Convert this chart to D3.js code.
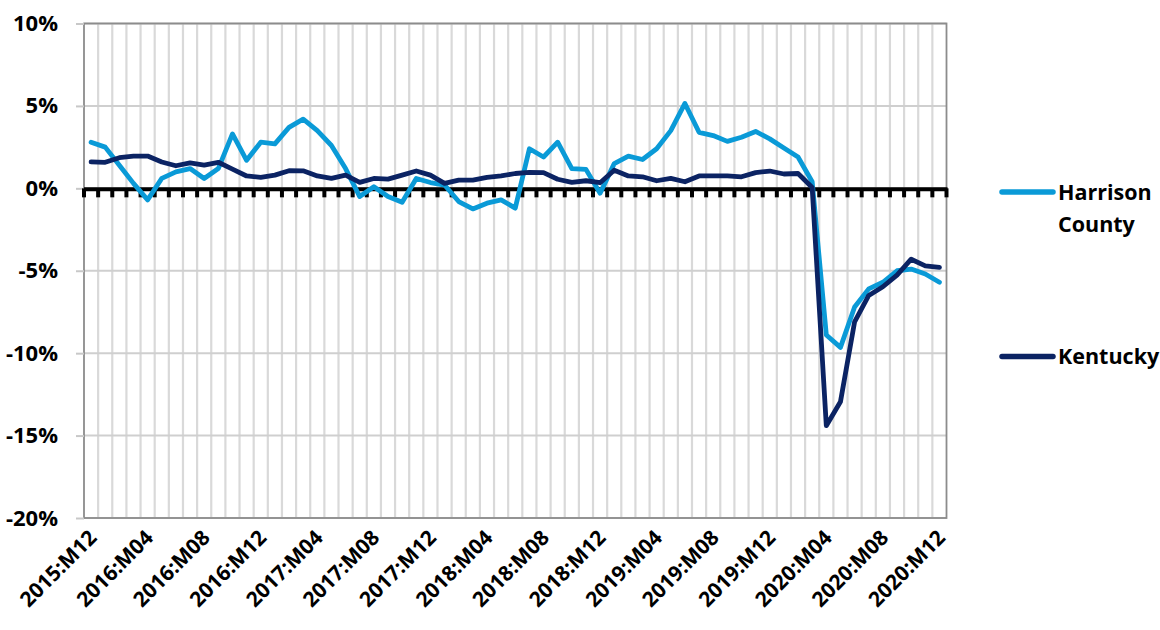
<!DOCTYPE html>
<html>
<head>
<meta charset="utf-8">
<script src="https://cdn.jsdelivr.net/npm/d3@7/dist/d3.min.js"></script>
<style>
  html, body { margin: 0; padding: 0; background: #ffffff; }
  svg { display: block; }
  text { font-family: "Open Sans", Lato, "Liberation Sans", sans-serif; font-weight: 700; fill: #000; }
</style>
</head>
<body>
<svg id="chart" width="1160" height="630"></svg>
<script>
// Monthly periods, 2015:M12 through 2020:M12
const periods = [];
for (let y = 2015, m = 12; y < 2021; ) {
  periods.push(y + ":M" + String(m).padStart(2, "0"));
  m++; if (m > 12) { m = 1; y++; }
  if (y === 2021) break;
}

// Year-over-year change, percent
const harrison = [
  2.8, 2.5, 1.4, 0.3, -0.7, 0.6, 1.0, 1.2, 0.6, 1.2,
  3.3, 1.7, 2.8, 2.7, 3.7, 4.2, 3.5, 2.6, 1.2, -0.5,
  0.1, -0.5, -0.85, 0.6, 0.35, 0.2, -0.8, -1.25, -0.9, -0.7,
  -1.2, 2.4, 1.9, 2.8, 1.2, 1.15, -0.3, 1.5, 1.95, 1.75,
  2.4, 3.5, 5.15, 3.4, 3.2, 2.85, 3.1, 3.45, 3.0, 2.45,
  1.9, 0.4, -8.9, -9.65, -7.2, -6.1, -5.7, -5.0, -4.9, -5.2,
  -5.7
];
const kentucky = [
  1.6, 1.58, 1.86, 1.96, 1.96, 1.6, 1.37, 1.55, 1.41, 1.58,
  1.17, 0.75, 0.67, 0.8, 1.07, 1.06, 0.75, 0.6, 0.8, 0.36,
  0.6, 0.56, 0.8, 1.05, 0.8, 0.3, 0.5, 0.5, 0.67, 0.75,
  0.9, 0.97, 0.95, 0.55, 0.36, 0.46, 0.34, 1.1, 0.75, 0.7,
  0.46, 0.6, 0.4, 0.75, 0.76, 0.75, 0.7, 0.95, 1.05, 0.87,
  0.9, 0.05, -14.4, -12.95, -8.1, -6.5, -5.97, -5.26, -4.3, -4.7,
  -4.8
];
const yTicks = [10, 5, 0, -5, -10, -15, -20];
const labelEvery = 4;

const series = [
  { name: ["Harrison", "County"], values: harrison, color: "#0a9ad7" },
  { name: ["Kentucky"], values: kentucky, color: "#0b2363" }
];

const svg = d3.select("#chart");
const m = { left: 84, top: 23.5, right: 946.5, bottom: 518 };

const x = d3.scaleBand().domain(periods).range([m.left, m.right]).paddingInner(0).paddingOuter(0);
const y = d3.scaleLinear().domain([-20, 10]).range([m.bottom, m.top]);
const xc = d => x(d) + x.bandwidth() / 2;

// Vertical gridlines at category boundaries
const bounds = periods.map(p => x(p)).concat([m.right]);
svg.append("g").selectAll("line").data(bounds.slice(1, -1)).join("line")
  .attr("x1", d => d).attr("x2", d => d)
  .attr("y1", m.top).attr("y2", m.bottom)
  .attr("stroke", "#d9d9d9").attr("stroke-width", 2.2);

// Horizontal gridlines
svg.append("g").selectAll("line").data(yTicks).join("line")
  .attr("x1", m.left).attr("x2", m.right)
  .attr("y1", d => y(d)).attr("y2", d => y(d))
  .attr("stroke", "#cfcfcf").attr("stroke-width", 2);

// Plot frame
svg.append("rect")
  .attr("x", m.left).attr("y", m.top)
  .attr("width", m.right - m.left).attr("height", m.bottom - m.top)
  .attr("fill", "none").attr("stroke", "#8c8c8c").attr("stroke-width", 1.8);

// Y axis
const yAxis = svg.append("g").attr("transform", `translate(${m.left},0)`)
  .call(d3.axisLeft(y).tickValues(yTicks).tickSize(8).tickPadding(18).tickFormat(d => d + "%"));
yAxis.select(".domain").remove();
yAxis.selectAll(".tick line").attr("stroke", "#c8c8c8").attr("stroke-width", 2);
yAxis.selectAll(".tick text")
  .style("font-family", "'Open Sans', Lato, sans-serif")
  .style("font-weight", 700).style("font-size", "22px").attr("fill", "#000");

// Category axis crossing at zero, with outside tick marks
const y0 = y(0);
const zeroAxis = svg.append("g");
zeroAxis.append("line")
  .attr("x1", m.left).attr("x2", m.right + 1)
  .attr("y1", y0 + 1).attr("y2", y0 + 1)
  .attr("stroke", "#000").attr("stroke-width", 4);
zeroAxis.selectAll("line.tk").data(bounds).join("line").attr("class", "tk")
  .attr("x1", d => d).attr("x2", d => d)
  .attr("y1", y0).attr("y2", y0 + 9)
  .attr("stroke", "#000").attr("stroke-width", 4);

// Category labels, rotated
svg.append("g").selectAll("text")
  .data(periods.filter((p, i) => i % labelEvery === 0)).join("text")
  .attr("transform", d => `translate(${xc(d) + 3},${m.bottom + 17}) rotate(-45)`)
  .attr("text-anchor", "end")
  .attr("dominant-baseline", "middle")
  .style("font-size", "21px")
  .text(d => d);

// Series lines
const line = d3.line().x((d, i) => xc(periods[i])).y(d => y(d));
svg.append("g").selectAll("path").data(series).join("path")
  .attr("d", s => line(s.values))
  .attr("fill", "none")
  .attr("stroke", s => s.color)
  .attr("stroke-width", 4.8)
  .attr("stroke-linejoin", "round")
  .attr("stroke-linecap", "round");

// Legend
const legendY = [192, 356.5];
const lg = svg.append("g").selectAll("g").data(series).join("g")
  .attr("transform", (s, i) => `translate(1000,${legendY[i]})`);
lg.append("line")
  .attr("x1", 2).attr("x2", 53).attr("y1", 0).attr("y2", 0)
  .attr("stroke", s => s.color).attr("stroke-width", 5.5).attr("stroke-linecap", "round");
lg.append("text")
  .attr("x", 58).attr("y", 0)
  .style("font-size", "21.5px")
  .selectAll("tspan").data(s => s.name).join("tspan")
  .attr("x", 58).attr("dy", (d, i) => i === 0 ? "0.35em" : "1.5em")
  .text(d => d);
</script>
</body>
</html>
